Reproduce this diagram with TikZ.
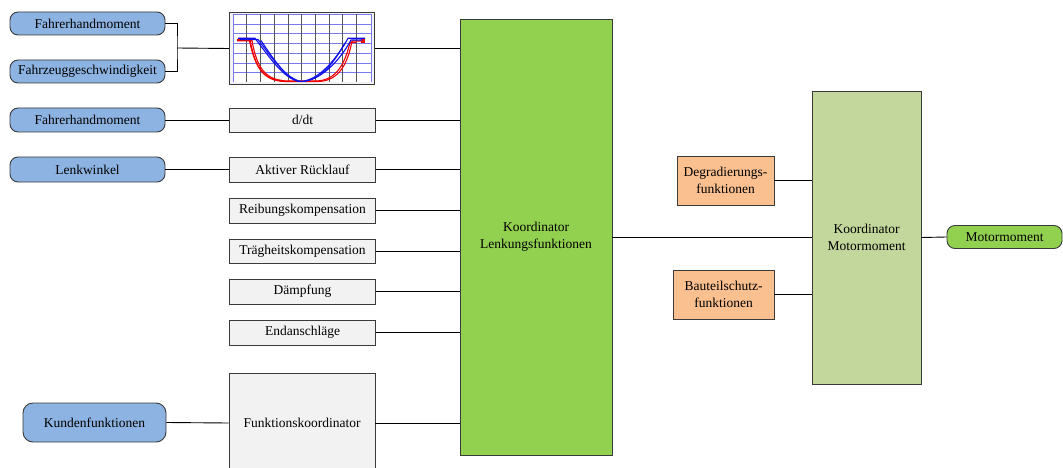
\documentclass[tikz,border=0pt]{standalone}
\usepackage{fontspec}
\setmainfont{Liberation Serif}
\definecolor{pillblue}{HTML}{8DB3E2}
\definecolor{lenkgreen}{HTML}{92D050}
\definecolor{motorgreen}{HTML}{C3D69B}
\definecolor{orangebox}{HTML}{FAC090}
\definecolor{greybox}{HTML}{F2F2F2}
\definecolor{frame}{HTML}{3A3A3A}
\definecolor{gridblue}{HTML}{7A7AF0}
\definecolor{gridgrey}{HTML}{555555}
\definecolor{curvered}{HTML}{F00000}
\definecolor{curveblue}{HTML}{1010E8}
\tikzset{
  base/.style={draw=frame, line width=0.9pt, inner sep=0pt, align=center,
    font=\fontsize{13.5}{17}\selectfont},
  pill/.style={base, fill=pillblue, rounded corners=8pt},
  fbox/.style={base, fill=greybox},
  obox/.style={base, fill=orangebox},
  conn/.style={draw=black, line width=0.9pt},
}
\begin{document}
\begin{tikzpicture}[x=1pt,y=-1pt]
\useasboundingbox (0,0) rectangle (1063,468);

% input signals
\node[pill, minimum width=155pt, minimum height=23pt] (f1) at (87.5,23.5) {Fahrerhandmoment};
\node[pill, minimum width=155pt, minimum height=23pt] (f2) at (87.5,71.5) {Fahrzeuggeschwindigkeit};
\node[pill, minimum width=155pt, minimum height=24pt] (f3) at (87.5,120) {Fahrerhandmoment};
\node[pill, minimum width=155pt, minimum height=25pt] (lw) at (87.5,169.5) {Lenkwinkel};
\node[pill, minimum width=143pt, minimum height=39pt, rounded corners=10pt] (kf) at (94.5,422.5) {Kundenfunktionen};

% characteristic map block
\node[fbox, minimum width=145pt, minimum height=72pt] (chart) at (302,48.5) {};
\fill[white] (233,14) rectangle (371,82);
\foreach \gy in {14.5,24,33.7,43.7,53.3,63,72.7}
  \draw[gridblue, line width=0.5pt] (233,\gy) -- (371,\gy);
\draw[gridblue, line width=0.6pt] (233,14) -- (233,82) (371,14) -- (371,82);
\foreach \gx in {246.7,260.7,274.3,288.3,301.7,315.7,329.3,342.3,356}
  \draw[gridgrey, line width=0.5pt] (\gx,14) -- (\gx,82);
% red characteristic curves
\begin{scope}[curvered, line width=1.1pt]
  \draw (237,39.5) -- (250,39.5) .. controls (255,66) and (262,81) .. (285,81.5) -- (318,81.5) .. controls (340,81) and (348,62) .. (352,41) -- (363,41);
  \draw (237,40.8) -- (252,40.8) .. controls (257,68) and (265,80.5) .. (288,81) -- (316,81) .. controls (337,80.5) and (345,63) .. (350,42.5) -- (356,42.5);
  \draw (238,38.5) -- (249,38.5) .. controls (254,63) and (261,80) .. (282,80.5);
  \fill (361,39.5) rectangle (364.5,43);
\end{scope}
% blue characteristic curves
\begin{scope}[curveblue, line width=1.1pt]
  \draw (238,38.3) -- (255,38.3) .. controls (268,55) and (284,80) .. (300,81.5) .. controls (318,81) and (336,60) .. (348,38.3) -- (365,38.3);
  \draw (240,39.5) -- (258,39.5) .. controls (272,58) and (287,80) .. (302,81.5) .. controls (320,80.5) and (339,62) .. (351,40) -- (362,40);
  \draw (261,40.5) .. controls (275,62) and (288,79) .. (298,81);
  \draw (305,81) .. controls (322,79) and (334,62) .. (345,43);
\end{scope}

% function blocks
\node[fbox, minimum width=146pt, minimum height=24pt] (ddt) at (302.5,120) {d/dt};
\node[fbox, minimum width=146pt, minimum height=25pt] (akt) at (302.5,169.5) {Aktiver Rücklauf};
\node[fbox, minimum width=146pt, minimum height=25pt] (reib) at (302.5,210.5) {Reibungskompensation};
\node[fbox, minimum width=146pt, minimum height=24pt] (trag) at (302.5,251) {Trägheitskompensation};
\node[fbox, minimum width=146pt, minimum height=25pt] (daem) at (302.5,291.5) {Dämpfung};
\node[fbox, minimum width=146pt, minimum height=25pt] (endan) at (302.5,332.5) {Endanschläge};
\node[fbox, minimum width=146pt, minimum height=100pt] (fk) at (302,423) {Funktionskoordinator};

% coordinators
\node[base, fill=lenkgreen, minimum width=152pt, minimum height=436pt] (lenk) at (536,237) {Koordinator\\Lenkungsfunktionen};
\node[base, fill=motorgreen, minimum width=109pt, minimum height=293pt] (mk) at (866.5,237.5) {Koordinator\\Motormoment};
\node[obox, minimum width=97pt, minimum height=49pt] (degr) at (725.5,180.5) {Degradierungs-\\funktionen};
\node[obox, minimum width=101pt, minimum height=49pt] (baut) at (723.5,294.5) {Bauteilschutz-\\funktionen};
\node[base, fill=lenkgreen, rounded corners=8pt, minimum width=115pt, minimum height=23pt] (mm) at (1004.5,237) {Motormoment};

% connections
\coordinate (br) at (177,48);
\draw[conn] (f1.east) -| (br) |- (f2.east);
\draw[conn] (br) -- (chart.west);
\draw[conn] (chart.east) -- (chart.east -| lenk.west);
\draw[conn] (f3.east) -- (ddt.west);
\draw[conn] (lw.east) -- (akt.west);
\draw[conn] (kf.east) -- (fk.west);
\foreach \n in {ddt,akt,reib,trag,daem,endan,fk}
  \draw[conn] (\n.east) -- (\n.east -| lenk.west);
\draw[conn] (lenk.east) -- (lenk.east -| mk.west);
\draw[conn] (degr.east) -- (degr.east -| mk.west);
\draw[conn] (baut.east) -- (baut.east -| mk.west);
\draw[conn] (mk.east) -- (mm.west);
\end{tikzpicture}
\end{document}
